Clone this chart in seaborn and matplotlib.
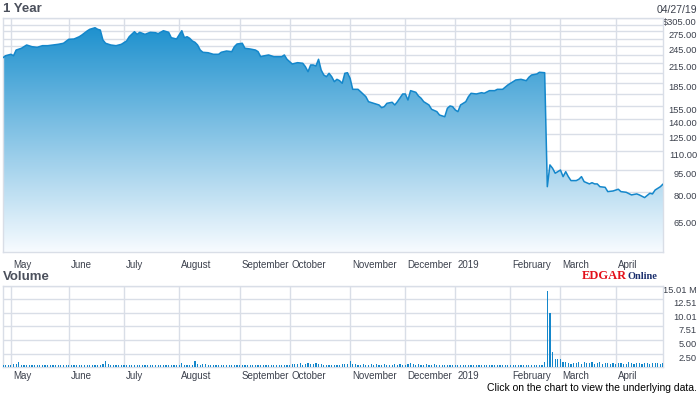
import numpy as np
import pandas as pd
import matplotlib
matplotlib.use("Agg")
import matplotlib.pyplot as plt
import seaborn as sns
from matplotlib.ticker import NullLocator
from matplotlib.transforms import ScaledTranslation

sns.set_theme(style="white")
plt.rcParams['font.family'] = ['Liberation Sans', 'DejaVu Sans']

# months on the axis, and trading days in each of them
month_labels = ["May", "June", "July", "August", "September", "October",
                "November", "December", "2019", "February", "March", "April"]
month_days = [22, 21, 21, 23, 19, 23, 21, 19, 21, 19, 21, 19]
days_before_may = 3

# closing price (trading day index, $)
price_days = [0, 1, 3, 4, 5, 7, 9, 11, 13, 15, 17, 19, 21, 23, 25, 27, 29, 30, 32, 33,
              35, 36, 37, 38, 39, 41, 43, 45, 47, 48, 50, 51, 52, 54, 56, 58, 59, 61, 63, 64,
              66, 68, 69, 70, 71, 72, 73, 74, 75, 76, 78, 80, 82, 83, 85, 87, 88, 89, 91, 92,
              94, 96, 97, 98, 99, 101, 103, 106, 107, 108, 110, 112, 114, 115, 116, 117, 118, 119, 120, 121,
              122, 123, 124, 125, 126, 127, 128, 129, 130, 131, 132, 133, 135, 136, 138, 139, 141, 143, 144, 145,
              146, 148, 149, 150, 152, 153, 154, 155, 157, 158, 159, 160, 162, 163, 165, 166, 168, 169, 170, 171,
              172, 173, 174, 176, 177, 178, 180, 182, 183, 185, 187, 188, 190, 192, 194, 195, 197, 199, 200, 201,
              203, 204, 206, 207, 208, 209, 210, 211, 212, 213, 214, 215, 216, 218, 219, 220, 221, 223, 224, 225,
              226, 227, 229, 230, 232, 234, 235, 237, 239, 241, 242, 244, 246, 247, 248, 250, 251]
price_vals = [224.7, 228.2, 230.7, 228.2, 238.4, 241.6, 247.8, 244.6, 243.4, 246.5, 246.5, 247.8, 249.1, 251.1, 258.9, 259.5, 264.1, 267.6, 276.0, 279.6,
              283.0, 279.6, 278.0, 257.5, 251.1, 247.8, 246.5, 249.1, 255.6, 264.1, 274.5, 269.0, 273.2, 269.0, 273.2, 272.4, 270.3, 276.6, 273.2, 262.1,
              259.5, 276.6, 262.1, 264.1, 260.9, 255.6, 253.0, 247.8, 238.4, 234.3, 233.5, 230.7, 230.7, 234.3, 236.6, 235.4, 244.6, 249.7, 251.1, 241.6,
              240.3, 238.4, 235.4, 226.5, 227.7, 229.5, 226.5, 226.5, 229.5, 222.0, 214.1, 216.3, 215.3, 209.7, 201.8, 212.5, 212.5, 210.8, 222.0, 204.4,
              196.7, 194.2, 199.3, 194.2, 186.9, 190.3, 188.3, 184.6, 199.3, 200.2, 191.8, 176.2, 176.2, 173.0, 166.5, 160.2, 158.2, 156.2, 153.0, 154.2,
              158.2, 159.5, 156.2, 160.2, 170.0, 170.0, 162.3, 174.4, 172.2, 167.4, 164.5, 160.2, 156.2, 151.1, 148.4, 144.6, 142.7, 152.3, 155.0, 154.2,
              150.3, 148.4, 156.2, 160.2, 166.5, 170.9, 170.0, 171.7, 170.9, 174.4, 174.4, 176.2, 176.2, 182.2, 186.9, 189.3, 190.3, 188.3, 193.3, 196.7,
              198.2, 200.9, 200.2, 83.3, 98.5, 96.0, 92.4, 93.5, 94.7, 90.0, 93.5, 90.0, 87.3, 87.3, 88.2, 90.0, 86.6, 85.1, 85.9, 85.1,
              85.1, 83.3, 82.9, 80.2, 80.6, 81.7, 80.2, 79.8, 78.2, 78.8, 78.2, 76.6, 79.2, 78.8, 81.2, 83.3, 85.0]

# daily volume in millions, month by month
vol_apr18 = [0.3, 0.3, 0.4]
vol_may = [0.3, 0.5, 0.5, 0.9, 0.4] + [0.3] * 17
vol_jun = [0.3] * 13 + [0.5, 1.2, 0.6, 0.4, 0.3, 0.4, 0.3, 0.3]
vol_jul = [0.3, 0.4] + [0.3] * 18 + [0.35]
vol_aug = [0.4, 0.7, 0.4, 0.3, 0.4, 0.3, 1.2, 0.5, 0.4, 0.6, 0.5, 0.4] + [0.3] * 11
vol_sep = [0.3, 0.35, 0.3, 0.3, 0.4, 0.3, 0.3, 0.3, 0.35, 0.3, 0.3, 0.3, 0.3, 0.35, 0.3, 0.3, 0.3, 0.4, 0.3]
vol_oct = [0.4, 0.5, 0.6, 0.5, 0.7, 0.4, 0.6, 0.8, 0.6, 0.5, 0.7, 0.5, 0.6, 0.4, 0.4, 0.3, 0.4, 0.3, 0.3, 0.4, 0.5, 0.6, 0.5]
vol_nov = [1.1, 0.6, 0.5, 0.4, 0.4, 0.5, 0.4, 0.4, 0.5, 0.4, 0.5, 0.4, 0.4, 0.5, 0.4, 0.3, 0.4, 0.5, 0.4, 0.5, 0.4]
vol_dec = [0.4, 0.5, 0.8, 0.5, 0.4, 0.5, 0.4, 0.4, 0.5, 0.4, 0.4, 0.5, 0.4, 0.4, 0.3, 0.4, 0.3, 0.3, 0.4]
vol_jan = [0.3, 0.4, 0.3, 0.3, 0.4, 0.3, 0.3, 0.3, 0.4, 0.3, 0.3, 0.3, 0.3, 0.3, 0.3, 0.3, 0.3, 0.3, 0.4, 0.3, 0.3]
vol_feb = [0.3] * 11 + [0.4, 0.4, 0.9, 14.0, 10.0, 2.7, 1.5, 1.4]
vol_mar = [1.4, 0.9, 0.9, 0.7, 0.6, 0.8, 0.7, 0.9, 0.6, 0.9, 0.7, 0.8, 0.9, 0.6, 0.8, 0.9, 0.6, 0.7, 0.8, 0.6, 0.7]
vol_apr = [0.6, 0.7, 0.8, 0.6, 0.6, 0.9, 0.7, 0.6, 0.8, 0.7, 0.6, 0.7, 0.8, 0.6, 0.7, 0.8, 0.7, 0.6, 0.8]
volume = (vol_apr18 + vol_may + vol_jun + vol_jul + vol_aug + vol_sep + vol_oct
          + vol_nov + vol_dec + vol_jan + vol_feb + vol_mar + vol_apr)

price_grid = [65, 80, 95, 110, 125, 140, 155, 170, 185, 200, 215, 230, 245, 260, 275, 290, 305]
price_labeled = [65, 80, 95, 110, 125, 140, 155, 185, 215, 245, 275, 305]
vol_ticks = [2.50, 5.00, 7.51, 10.01, 12.51, 15.01]

grid_col = '#d9dee7'
text_col = '#3c414d'
blue = '#1487cb'

month_pos = list(np.cumsum([days_before_may] + month_days[:-1]))
n_days = len(volume)

fig = plt.figure(figsize=(7, 3.95), dpi=100)
ax = fig.add_axes([3 / 700, 1 - 252 / 395, 660 / 700, 234 / 395])
axv = fig.add_axes([3 / 700, 1 - 367 / 395, 660 / 700, 81 / 395])

# ---- price panel
df = pd.DataFrame({'day': price_days, 'price': price_vals})
sns.lineplot(data=df, x='day', y='price', ax=ax, color=blue, lw=1.1, zorder=4)
ax.set_yscale('log')

fill = ax.fill_between(df['day'], df['price'], 30, facecolor='none', edgecolor='none')
top_c = np.array([0.08, 0.55, 0.80])
bot_c = np.array([0.97, 0.985, 1.0])
t = np.linspace(0, 1, 256)[:, None]
grad = (bot_c * (1 - t) + top_c * t)[:, None, :]
im = ax.imshow(grad, extent=[0, 1, 0, 1], transform=ax.transAxes, origin='lower',
               aspect='auto', zorder=2, interpolation='bilinear')
im.set_clip_path(fill.get_paths()[0], transform=ax.transData)

ax.set_xlim(0, n_days - 1)
ax.set_ylim(50.4, 305)
ax.set_yticks(price_grid)
ax.set_yticklabels([("$%.2f" % v if v == 305 else "%.2f" % v) if v in price_labeled else ""
                    for v in price_grid])
ax.yaxis.set_minor_locator(NullLocator())
ax.set_xticks(month_pos)
ax.set_xticklabels(month_labels)
ax.set_xlabel("")
ax.set_ylabel("")

# ---- volume panel
vdf = pd.DataFrame({'day': np.arange(n_days), 'vol': volume})
sns.barplot(data=vdf, x='day', y='vol', ax=axv, native_scale=True, color=blue,
            width=0.45, saturation=1, errorbar=None, linewidth=0, zorder=3)
axv.set_xlim(0, n_days - 1)
axv.set_ylim(0, 15.01)
axv.set_yticks(vol_ticks)
axv.set_yticklabels(["%.2f M" % v if v == 15.01 else "%.2f" % v for v in vol_ticks])
axv.set_xticks(month_pos)
axv.set_xticklabels(month_labels)
axv.set_xlabel("")
axv.set_ylabel("")

shift = ScaledTranslation(2 / 100, 0, fig.dpi_scale_trans)
for a, xpad in ((ax, 6), (axv, 3)):
    a.grid(True, color=grid_col, lw=1)
    a.set_axisbelow(True)
    for s in a.spines.values():
        s.set_color(grid_col)
        s.set_linewidth(1)
    a.yaxis.tick_right()
    a.tick_params(axis='y', length=0, pad=24.5, labelsize=6.7, labelcolor=text_col)
    a.tick_params(axis='x', length=0, pad=xpad, labelsize=7, labelcolor=text_col)
    for lbl in a.get_yticklabels():
        lbl.set_ha('right')
        lbl.set_va('top')
    for lbl in a.get_xticklabels():
        lbl.set_ha('left')
        lbl.set_transform(lbl.get_transform() + shift)

fig.text(3 / 700, 1 - 9 / 395, "1 Year", fontsize=9.5, weight='bold', color='#4b505c', va='center')
fig.text(3 / 700, 1 - 277 / 395, "Volume", fontsize=9.5, weight='bold', color='#4b505c', va='center')
fig.text(697 / 700, 1 - 10 / 395, "04/27/19", fontsize=7.5, color=text_col, ha='right', va='center')
fig.text(697 / 700, 1 - 388 / 395, "Click on the chart to view the underlying data.",
         fontsize=7.5, color='black', ha='right', va='center')
fig.text(582 / 700, 1 - 279 / 395, "EDGAR", fontsize=9, weight='bold', color='#e3101a',
         family='Liberation Serif', va='baseline')
fig.text(628 / 700, 1 - 279 / 395, "Online", fontsize=7.5, weight='bold', color='#1b2f6e',
         family='Liberation Serif', va='baseline')

fig.savefig('out.png', dpi=100)
plt.close(fig)
